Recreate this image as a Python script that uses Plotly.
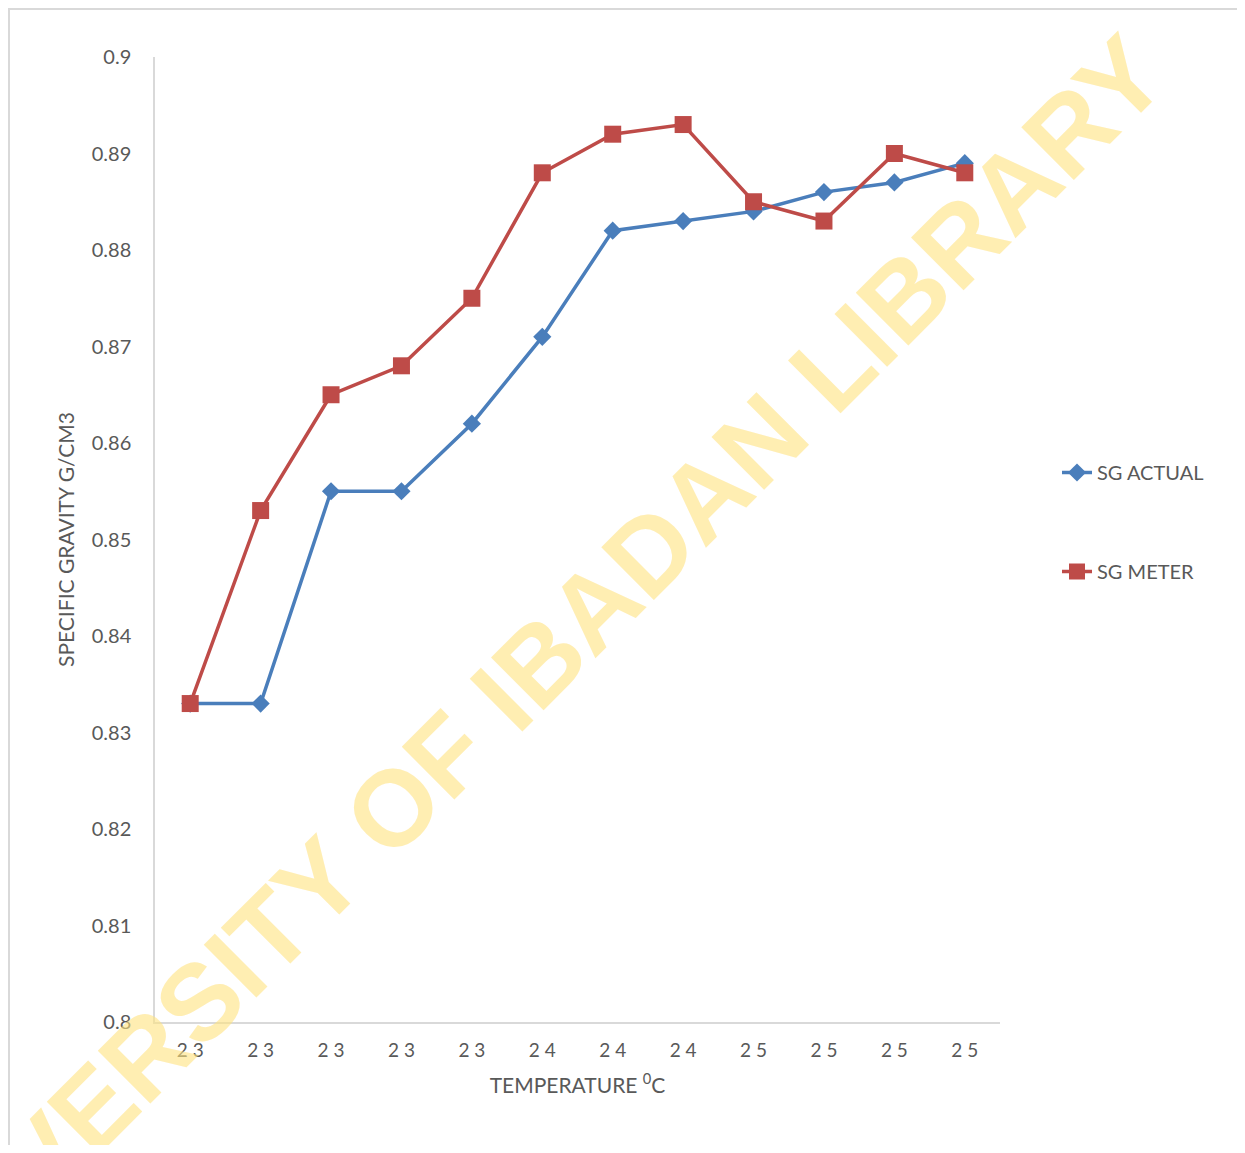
import plotly.graph_objects as go

# ---- data ----
temperatures = [23, 23, 23, 23, 23, 24, 24, 24, 25, 25, 25, 25]
sg_actual = [0.833, 0.833, 0.855, 0.855, 0.862, 0.871, 0.882, 0.883, 0.884, 0.886, 0.887, 0.889]
sg_meter = [0.833, 0.853, 0.865, 0.868, 0.875, 0.888, 0.892, 0.893, 0.885, 0.883, 0.890, 0.888]
series_names = ["SG ACTUAL", "SG METER"]
y_ticks = [0.8, 0.81, 0.82, 0.83, 0.84, 0.85, 0.86, 0.87, 0.88, 0.89, 0.9]
watermark = "UNIVERSITY OF IBADAN LIBRARY"

x_idx = list(range(len(temperatures)))
tick_text = [" ".join(str(t)) for t in temperatures]

FONT = "Lato, 'Open Sans', sans-serif"
TXT = "#595959"
AXIS = "#d9d9d9"

OFF = 8  # page body margin
W, H = 1245 - OFF, 1153 - 2 * OFF
# plot area in page pixels: x 155..1000, y 57..1022
ML, MT = 155 - OFF, 57 - OFF
MR = W - (1000 - OFF)
MB = H - (1022 - OFF)
PW, PH = W - ML - MR, H - MT - MB


def px_x(px):
    return (px - OFF - ML) / PW


def px_y(py):
    return (H - MB - (py - OFF)) / PH


fig = go.Figure()
fig.add_trace(go.Scatter(
    x=x_idx, y=sg_actual, name=series_names[0], mode="lines+markers",
    legendgroup="a",
    line=dict(color="#4A7EBB", width=3.5),
    marker=dict(symbol="diamond", size=14, color="#4A7EBB"),
))
fig.add_trace(go.Scatter(
    x=x_idx, y=sg_meter, name=series_names[1], mode="lines+markers",
    legendgroup="b",
    line=dict(color="#BE4B48", width=3.5),
    marker=dict(symbol="square", size=17, color="#BE4B48"),
))

fig.update_layout(
    width=W, height=H,
    margin=dict(l=ML, r=MR, t=MT, b=MB),
    paper_bgcolor="white", plot_bgcolor="white",
    font=dict(family=FONT, size=20, color=TXT),
    showlegend=True,
    legend=dict(
        x=px_x(1057), xanchor="left",
        y=px_y(453), yanchor="top",
        font=dict(family=FONT, size=20, color=TXT),
        tracegroupgap=70,
        bgcolor="rgba(0,0,0,0)",
    ),
    xaxis=dict(
        range=[-0.5, len(temperatures) - 0.5],
        tickmode="array", tickvals=x_idx, ticktext=tick_text,
        showgrid=False, zeroline=False,
        showline=True, linecolor=AXIS, linewidth=1.5,
        ticks="", ticklabelstandoff=10,
        tickfont=dict(family=FONT, size=19, color=TXT),
        title=dict(text="TEMPERATURE <sup>0</sup>C", standoff=19,
                   font=dict(family=FONT, size=21, color=TXT)),
    ),
    yaxis=dict(
        range=[0.8, 0.9],
        tickmode="array", tickvals=y_ticks,
        ticktext=[f"{v:g}" for v in y_ticks],
        showgrid=False, zeroline=False,
        showline=True, linecolor=AXIS, linewidth=1.5,
        ticks="", ticklabelstandoff=18,
        tickfont=dict(family=FONT, size=20, color=TXT),
        title=dict(text="SPECIFIC GRAVITY G/CM3", standoff=11,
                   font=dict(family=FONT, size=21, color=TXT)),
    ),
)

# outer chart frame (left/top edges sit at the figure's own edge)
fig.add_shape(type="rect", xref="paper", yref="paper",
              x0=px_x(OFF + 1), x1=px_x(1240), y0=px_y(1200), y1=px_y(OFF + 1),
              line=dict(color=AXIS, width=2), fillcolor="rgba(0,0,0,0)",
              layer="below")

# watermark
fig.add_annotation(
    text=watermark, xref="paper", yref="paper",
    x=px_x(515), y=px_y(685), xanchor="center", yanchor="middle",
    textangle=-45, showarrow=False,
    font=dict(family="'Liberation Sans', Arial, sans-serif", size=108,
              color="rgb(255,227,128)", weight="bold"),
    opacity=0.6,
)

fig.write_html("out.html")
